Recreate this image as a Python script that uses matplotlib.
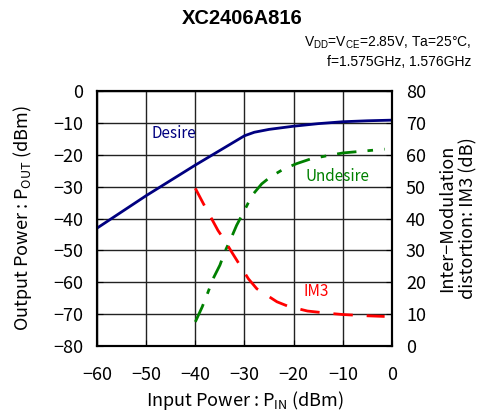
import matplotlib
matplotlib.use("Agg")
import matplotlib.pyplot as plt

plt.rcParams['font.family'] = ['Noto Sans CJK JP', 'DejaVu Sans']
plt.rcParams['axes.unicode_minus'] = True

pin_desire = [-60, -50, -40, -30, -28, -25, -20, -15, -10, -5, 0]
desire = [-43.0, -32.8, -23.2, -14.0, -12.9, -12.0, -11.0, -10.2, -9.6, -9.3, -9.1]

pin_und = [-40, -38.6, -37.4, -36.4, -35.0, -34.0, -32.6, -31.6, -30.0, -28.5,
           -26.5, -24.8, -22.0, -19.3, -16.6, -13, -10, -5, -1.5]
undesire = [7.6, 12.3, 17.0, 21.1, 25.4, 29.6, 34.3, 37.9, 42.6, 47.2,
            50.9, 53.0, 55.6, 57.3, 58.7, 59.8, 60.6, 61.3, 61.8]

pin_im3 = [-40, -38.4, -36.7, -35.4, -34.0, -32.6, -30.9, -29.2, -27.5, -25.4,
           -23.4, -21.3, -19.3, -17.2, -13, -10, -5, -1.5]
im3 = [49.5, 44.8, 40.0, 36.3, 33.1, 29.5, 25.3, 21.1, 18.0, 15.9,
       13.9, 12.6, 11.8, 11.0, 10.3, 9.9, 9.5, 9.3]

fig = plt.figure(figsize=(4.83, 4.2), dpi=100)
ax = fig.add_axes([0.2008, 0.176, 0.6108, 0.607])
ax2 = ax.twinx()

ax.plot(pin_desire, desire, color='#000080', lw=2, zorder=5)
ax2.plot(pin_und, undesire, color='#008000', lw=2, linestyle=(0, (7, 4, 2, 4)), zorder=5)
ax2.plot(pin_im3, im3, color='#ff0000', lw=2, linestyle=(0, (7, 5)), zorder=5)

ax.set_xlim(-60, 0)
ax.set_ylim(-80, 0)
ax2.set_ylim(0, 80)
ax.set_xticks(range(-60, 1, 10))
ax.set_yticks(range(-80, 1, 10))
ax2.set_yticks(range(0, 81, 10))
ax.grid(True, color='#222222', lw=1)
for a in (ax, ax2):
    a.tick_params(direction='in', labelsize=13, length=4, color='black', pad=10)
    for s in a.spines.values():
        s.set_linewidth(1.5)
ax.tick_params(axis='x', pad=14)

ax.set_xlabel('Input Power : P$_{\\mathregular{IN}}$ (dBm)', fontsize=13, labelpad=4)
ax.set_ylabel('Output Power : P$_{\\mathregular{OUT}}$ (dBm)', fontsize=13, labelpad=14)
ax2.set_ylabel('Inter−Modulation\ndistortion: IM3 (dB)', fontsize=13, labelpad=9)

ax.text(-49, -13.2, 'Desire', color='#000080', fontsize=11, va='center')
ax.text(-17.5, -26.8, 'Undesire', color='#008000', fontsize=11, va='center')
ax.text(-18, -63, 'IM3', color='#ff0000', fontsize=11, va='center')

fig.text(0.501, 0.957, 'XC2406A816', fontsize=14.5, fontweight='bold', ha='center', va='center',
         family='Liberation Sans')
fig.text(0.975, 0.897, 'V$_{\\mathregular{DD}}$=V$_{\\mathregular{CE}}$=2.85V, Ta=25°C,', fontsize=10,
         ha='right', va='center', family='Liberation Sans')
fig.text(0.975, 0.852, 'f=1.575GHz, 1.576GHz', fontsize=10, ha='right', va='center',
         family='Liberation Sans')

fig.savefig('out.png', dpi=100)
